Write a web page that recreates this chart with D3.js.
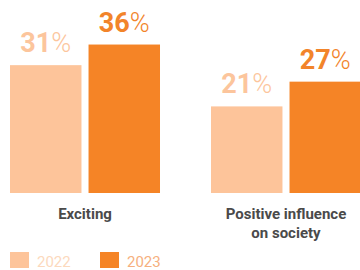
<!DOCTYPE html>
<html>
<head>
<meta charset="utf-8">
<script src="https://cdn.jsdelivr.net/npm/d3@7"></script>
<style>
  body { margin: 0; background: #fff; }
  svg { display: block; }
</style>
</head>
<body>
<svg id="chart" width="360" height="270"></svg>
<script>
// data
var categories = ['Exciting', 'Positive influence|on society'];
var years = ['2022', '2023'];
var values2022 = [31, 21];
var values2023 = [36, 27];

var colors = { '2022': '#fdc49a', '2023': '#f58426' };
var labelColors = { '2022': '#fcc59c', '2023': '#f2842a' };
var legendTextColors = { '2022': '#fcd9bd', '2023': '#f6b07e' };

var svg = d3.select('#chart');
var font = 'Roboto, "Open Sans", sans-serif';

var baseY = 193;

var x0 = d3.scaleBand()
    .domain(categories)
    .range([10, 361])
    .paddingInner(0.2537)
    .paddingOuter(0);

var x1 = d3.scaleBand()
    .domain(years)
    .range([0, x0.bandwidth()])
    .paddingInner(0.09);

var y = d3.scaleLinear()
    .domain([0, 46.8])
    .range([baseY, 0]);

var rows = categories.map(function (c, i) {
    return { cat: c, vals: [
        { year: '2022', v: values2022[i] },
        { year: '2023', v: values2023[i] }
    ] };
});

var groups = svg.selectAll('g.grp')
    .data(rows)
    .enter().append('g')
    .attr('class', 'grp')
    .attr('transform', function (d) { return 'translate(' + x0(d.cat) + ',0)'; });

groups.selectAll('rect')
    .data(function (d) { return d.vals; })
    .enter().append('rect')
    .attr('x', function (d) { return x1(d.year); })
    .attr('y', function (d) { return y(d.v); })
    .attr('width', x1.bandwidth())
    .attr('height', function (d) { return baseY - y(d.v); })
    .attr('fill', function (d) { return colors[d.year]; });

// value labels
var lbl = groups.selectAll('text.val')
    .data(function (d) { return d.vals; })
    .enter().append('text')
    .attr('class', 'val')
    .attr('x', function (d) { return x1(d.year) + x1.bandwidth() / 2; })
    .attr('y', function (d) { return y(d.v) - 13; })
    .attr('text-anchor', 'middle')
    .attr('font-family', font)
    .attr('font-size', 27)
    .attr('fill', function (d) { return labelColors[d.year]; });
lbl.append('tspan')
    .attr('font-weight', 700)
    .text(function (d) { return d.v; });
lbl.append('tspan')
    .attr('font-weight', 300)
    .text('%');

// category labels
groups.each(function (d) {
    var lines = d.cat.split('|');
    var t = d3.select(this).append('text')
        .attr('text-anchor', 'middle')
        .attr('font-family', font)
        .attr('font-size', 15)
        .attr('font-weight', 700)
        .attr('fill', '#4a4a4a');
    lines.forEach(function (l, i) {
        t.append('tspan')
            .attr('x', x0.bandwidth() / 2)
            .attr('y', 219 + i * 19)
            .text(l);
    });
});

// legend
var legend = svg.selectAll('g.leg')
    .data(years)
    .enter().append('g')
    .attr('class', 'leg')
    .attr('transform', function (d, i) { return 'translate(' + (10 + i * 90) + ',252)'; });
legend.append('rect')
    .attr('width', 19)
    .attr('height', 16)
    .attr('fill', function (d) { return colors[d]; });
legend.append('text')
    .attr('x', 27)
    .attr('y', 15)
    .attr('font-family', font)
    .attr('font-size', 15)
    .attr('fill', function (d) { return legendTextColors[d]; })
    .text(function (d) { return d; });
</script>
</body>
</html>
